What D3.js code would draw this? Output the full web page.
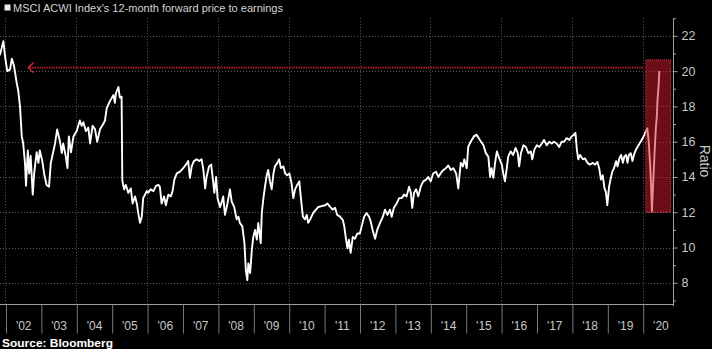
<!DOCTYPE html>
<html>
<head>
<meta charset="utf-8">
<script src="https://cdn.jsdelivr.net/npm/d3@7"></script>
<style>
  html, body { margin: 0; padding: 0; background: #000; }
  svg { display: block; }
</style>
</head>
<body>
<svg id="chart" width="712" height="349"></svg>
<script>
// ---- Text ----
const titleText = "MSCI ACWI Index's 12-month forward price to earnings";
const sourceText = "Source: Bloomberg";
const axisTitle = "Ratio";

// ---- Axis ticks ----
const yearTicks = d3.range(2002, 2021);
const yearLabels = ["'02","'03","'04","'05","'06","'07","'08","'09","'10","'11",
                    "'12","'13","'14","'15","'16","'17","'18","'19","'20"];
const gridYears = [2002, 2004, 2006, 2008, 2010, 2012, 2014, 2016, 2018, 2020];
const ratioTicks = [8, 10, 12, 14, 16, 18, 20, 22];
const ratioMinorTicks = [7, 9, 11, 13, 15, 17, 19, 21, 23];

// ---- Annotations (date as decimal year, value as ratio) ----
const referenceLevel = 20.2;                  // today's multiple, carried back to 2002
const referenceSpan = [2002.64, 2020.01];
const highlightDates = [2020.09, 2020.79];
const highlightRatios = [12.0, 20.64];

// ---- Forward P/E series [decimal year, ratio] ----
const pe2001_2004 = [
  [2001.84,20.9],[2001.94,21.7],[2001.99,20.8],[2002.05,20.0],[2002.13,20.1],[2002.18,20.7],
  [2002.24,20.3],[2002.32,19.3],[2002.36,18.9],[2002.41,18.0],[2002.46,16.3],[2002.50,15.9],
  [2002.55,14.8],[2002.58,13.5],[2002.63,15.5],[2002.67,14.2],[2002.71,15.2],[2002.77,13.0],
  [2002.81,14.2],[2002.88,15.4],[2002.93,14.8],[2002.97,15.5],[2003.04,14.9],[2003.09,14.2],
  [2003.16,13.55],[2003.23,13.45],[2003.28,14.8],[2003.33,15.25],[2003.40,15.9],[2003.46,16.7],
  [2003.54,16.0],[2003.59,15.35],[2003.63,15.9],[2003.70,15.2],[2003.75,14.5],[2003.79,16.3],
  [2003.85,15.4],[2003.92,16.3],[2004.01,16.6],[2004.10,17.2],[2004.15,16.9],[2004.20,17.1],
  [2004.27,16.6],[2004.34,16.8],[2004.39,15.9],[2004.46,16.9],[2004.53,16.7],[2004.59,16.0],
  [2004.67,16.7],[2004.76,17.0],[2004.81,17.2],[2004.86,17.9],[2004.95,18.3]
];
const pe2005_2008 = [
  [2005.05,18.65],[2005.09,18.2],[2005.12,18.75],[2005.19,19.1],[2005.23,18.5],[2005.28,18.55],
  [2005.30,13.8],[2005.35,13.3],[2005.40,13.55],[2005.47,13.1],[2005.54,13.35],[2005.59,12.5],
  [2005.66,12.9],[2005.71,12.5],[2005.75,11.95],[2005.80,11.4],[2005.85,11.75],[2005.89,12.8],
  [2005.94,13.0],[2005.99,13.2],[2006.03,13.1],[2006.10,13.3],[2006.18,13.2],[2006.25,13.5],
  [2006.32,13.55],[2006.36,13.45],[2006.41,12.5],[2006.48,12.9],[2006.53,12.4],[2006.60,13.0],
  [2006.67,12.9],[2006.72,13.2],[2006.77,13.85],[2006.84,14.2],[2006.93,14.3],[2007.02,14.5],
  [2007.10,14.7],[2007.16,14.9],[2007.21,13.95],[2007.26,14.6],[2007.32,14.9],[2007.40,15.0],
  [2007.47,14.9],[2007.54,15.0],[2007.59,14.4],[2007.64,13.35],[2007.68,14.0],[2007.75,14.6],
  [2007.81,14.7],[2007.85,14.0],[2007.90,13.1],[2007.95,14.0],[2007.99,12.8],[2008.06,12.3],
  [2008.11,12.6],[2008.15,12.9],[2008.20,11.85],[2008.27,12.5],[2008.34,13.3],[2008.39,12.6],
  [2008.46,12.3],[2008.53,11.6],[2008.58,11.75],[2008.62,11.4],[2008.69,11.2],[2008.75,10.25],
  [2008.79,8.7],[2008.83,8.15],[2008.86,9.1],[2008.91,8.55],[2008.96,9.9]
];
const pe2009_2012 = [
  [2009.00,10.6],[2009.05,11.0],[2009.10,10.45],[2009.14,11.4],[2009.21,10.25],[2009.24,11.95],
  [2009.28,12.7],[2009.33,13.45],[2009.38,14.1],[2009.42,14.4],[2009.47,13.75],[2009.52,13.3],
  [2009.57,14.2],[2009.61,14.6],[2009.68,14.8],[2009.73,15.0],[2009.78,14.5],[2009.85,14.6],
  [2009.90,14.2],[2009.96,14.1],[2010.02,14.2],[2010.08,13.65],[2010.13,12.8],[2010.18,13.3],
  [2010.24,13.55],[2010.30,13.75],[2010.34,12.9],[2010.40,11.75],[2010.46,11.6],[2010.51,11.85],
  [2010.55,11.4],[2010.62,11.65],[2010.69,11.95],[2010.77,12.15],[2010.84,12.3],[2010.93,12.35],
  [2011.03,12.4],[2011.09,12.5],[2011.17,12.3],[2011.24,12.15],[2011.31,12.25],[2011.37,11.85],
  [2011.45,11.75],[2011.53,11.55],[2011.57,11.2],[2011.62,10.45],[2011.66,9.95],[2011.70,10.45],
  [2011.75,9.7],[2011.81,10.6],[2011.87,10.5],[2011.94,10.8],[2012.01,10.8],[2012.06,11.2],
  [2012.13,11.75],[2012.20,11.95],[2012.27,11.75],[2012.32,11.45],[2012.37,11.0],[2012.44,10.5],
  [2012.50,11.0],[2012.58,11.4],[2012.66,11.75],[2012.72,12.15],[2012.79,11.85],[2012.86,12.15],
  [2012.91,11.75],[2012.97,12.25]
];
const pe2013_2016 = [
  [2013.05,12.5],[2013.12,12.8],[2013.19,12.8],[2013.26,13.0],[2013.33,12.9],[2013.40,13.45],
  [2013.45,13.1],[2013.49,12.25],[2013.54,13.1],[2013.60,13.3],[2013.66,12.9],[2013.73,13.45],
  [2013.80,13.75],[2013.88,13.85],[2013.94,14.0],[2014.01,13.75],[2014.08,14.2],[2014.16,14.3],
  [2014.23,14.0],[2014.29,14.2],[2014.37,14.4],[2014.44,14.5],[2014.51,14.65],[2014.58,14.4],
  [2014.65,14.5],[2014.73,14.2],[2014.79,13.35],[2014.86,14.8],[2014.92,14.6],[2014.96,15.0],
  [2015.03,14.5],[2015.07,15.7],[2015.14,16.0],[2015.23,16.3],[2015.31,16.4],[2015.40,16.1],
  [2015.50,15.8],[2015.57,15.35],[2015.64,15.15],[2015.69,14.0],[2015.73,14.5],[2015.78,13.95],
  [2015.83,14.8],[2015.88,15.45],[2015.95,15.05],[2016.02,14.7],[2016.06,14.2],[2016.11,13.75],
  [2016.16,14.5],[2016.20,15.15],[2016.27,15.45],[2016.34,15.25],[2016.41,15.65],[2016.47,15.35],
  [2016.51,14.6],[2016.56,15.35],[2016.63,15.8],[2016.70,15.7],[2016.77,15.35],[2016.84,15.45],
  [2016.88,15.0],[2016.94,15.55]
];
const pe2017_2020 = [
  [2017.01,15.8],[2017.08,15.7],[2017.15,15.9],[2017.21,16.1],[2017.29,15.8],[2017.36,16.0],
  [2017.43,15.9],[2017.49,16.0],[2017.57,15.9],[2017.64,15.7],[2017.71,16.0],[2017.78,16.0],
  [2017.85,16.2],[2017.93,16.1],[2017.99,16.3],[2018.06,16.4],[2018.10,16.5],[2018.14,15.55],
  [2018.18,15.0],[2018.23,15.25],[2018.31,15.0],[2018.37,15.05],[2018.44,14.8],[2018.51,14.7],
  [2018.59,14.8],[2018.65,14.7],[2018.72,14.85],[2018.77,14.5],[2018.82,13.85],[2018.87,14.1],
  [2018.92,13.35],[2018.96,13.15],[2019.00,12.4],[2019.05,13.45],[2019.10,13.95],[2019.14,14.3],
  [2019.19,14.5],[2019.25,14.9],[2019.29,14.6],[2019.34,15.05],[2019.39,15.25],[2019.44,14.8],
  [2019.48,15.15],[2019.53,15.25],[2019.57,14.8],[2019.61,15.25],[2019.66,15.35],[2019.71,14.9],
  [2019.75,15.25],[2019.81,15.55],[2019.88,15.8],[2019.94,16.0],[2020.00,16.2],[2020.05,16.4],
  [2020.09,16.6],[2020.13,16.75],[2020.17,16.0],[2020.21,14.7],[2020.24,13.35],[2020.26,12.05],
  [2020.28,13.0],[2020.31,14.3],[2020.34,15.6],[2020.37,16.75],[2020.40,17.5],[2020.42,18.45],
  [2020.45,19.2],[2020.47,20.0]
];
const series = [].concat(pe2001_2004, pe2005_2008, pe2009_2012, pe2013_2016, pe2017_2020);

// ---- Layout ----
const plot = { left: 0, right: 672.7, top: 18.2, bottom: 304 };
const labelFont = "'Liberation Sans', Arial, sans-serif";

const svg = d3.select("#chart");
svg.append("rect").attr("width", 712).attr("height", 349).attr("fill", "#000");

const x = d3.scaleLinear().domain([2001.845, 2020.847]).range([plot.left, plot.right]);
const y = d3.scaleLinear().domain([6.8, 23.0]).range([plot.bottom, plot.top]);
const crisp = v => Math.round(v) + 0.5;

// ---- Grid ----
const grid = svg.append("g")
  .attr("stroke", "#5a5a5a").attr("stroke-width", 1).attr("stroke-dasharray", "1,2");
grid.selectAll("line.h").data(ratioTicks).join("line").attr("class", "h")
  .attr("x1", plot.left).attr("x2", plot.right)
  .attr("y1", d => crisp(y(d))).attr("y2", d => crisp(y(d)));
grid.selectAll("line.v").data(gridYears).join("line").attr("class", "v")
  .attr("y1", plot.top).attr("y2", plot.bottom)
  .attr("x1", d => crisp(x(d))).attr("x2", d => crisp(x(d)));

// ---- Reference arrow ----
const refY = y(referenceLevel);
svg.append("line")
  .attr("x1", x(referenceSpan[1])).attr("x2", x(referenceSpan[0]) + 1)
  .attr("y1", refY).attr("y2", refY)
  .attr("stroke", "#c8202c").attr("stroke-width", 1.6).attr("stroke-dasharray", "1.4,1");
const ax = x(referenceSpan[0]);
svg.append("path")
  .attr("d", `M${ax + 5.5},${refY - 5} L${ax},${refY} L${ax + 5.5},${refY + 5}`)
  .attr("fill", "none").attr("stroke", "#c8202c").attr("stroke-width", 1.5);

// ---- Series ----
const line = d3.line().x(d => x(d[0])).y(d => y(d[1]));
svg.append("path").datum(series)
  .attr("d", line)
  .attr("fill", "none").attr("stroke", "#ffffff")
  .attr("stroke-width", 1.9).attr("stroke-linejoin", "round");

// ---- Highlight box ----
svg.append("rect")
  .attr("x", x(highlightDates[0])).attr("width", x(highlightDates[1]) - x(highlightDates[0]))
  .attr("y", y(highlightRatios[1])).attr("height", y(highlightRatios[0]) - y(highlightRatios[1]))
  .attr("fill", "rgb(215,28,48)").attr("fill-opacity", 0.5)
  .attr("stroke", "#e0404e").attr("stroke-width", 1).attr("stroke-dasharray", "1,1");

// ---- Axis frame ----
svg.append("line")
  .attr("x1", plot.left).attr("x2", crisp(plot.right))
  .attr("y1", crisp(plot.bottom)).attr("y2", crisp(plot.bottom))
  .attr("stroke", "#a0a0a0");
svg.append("line")
  .attr("x1", crisp(plot.right)).attr("x2", crisp(plot.right))
  .attr("y1", plot.top).attr("y2", plot.bottom + 2)
  .attr("stroke", "#a0a0a0");

// ---- Bottom axis: year boundaries and centred labels ----
const xTicks = svg.append("g").attr("transform", `translate(0.5,${crisp(plot.bottom)})`)
  .call(d3.axisBottom(x).tickValues(yearTicks).tickSize(29).tickFormat(""));
xTicks.select(".domain").remove();
xTicks.selectAll("line").attr("stroke", "#7a7a7a");

const xLabels = svg.append("g").attr("transform", `translate(0,${plot.bottom})`)
  .call(d3.axisBottom(x).tickValues(yearTicks.map(d => d + 0.5)).tickSize(0).tickPadding(17)
    .tickFormat((d, i) => yearLabels[i]));
xLabels.select(".domain").remove();
xLabels.selectAll("text")
  .attr("fill", "#c8c8c8").attr("font-family", labelFont).attr("font-size", 12);

// ---- Right axis ----
const yAxis = svg.append("g").attr("transform", `translate(${crisp(plot.right)},0)`)
  .call(d3.axisRight(y).tickValues(ratioTicks).tickSize(4).tickPadding(4));
yAxis.select(".domain").remove();
yAxis.selectAll("line").attr("stroke", "#a0a0a0");
yAxis.selectAll("text")
  .attr("fill", "#c8c8c8").attr("font-family", labelFont).attr("font-size", 12.5);

const yMinor = svg.append("g").attr("transform", `translate(${crisp(plot.right)},0)`)
  .call(d3.axisRight(y).tickValues(ratioMinorTicks).tickSize(2.5).tickFormat(""));
yMinor.select(".domain").remove();
yMinor.selectAll("line").attr("stroke", "#a0a0a0");

svg.append("text")
  .attr("transform", "translate(700,161) rotate(90)")
  .attr("text-anchor", "middle")
  .attr("fill", "#c8c8c8").attr("font-family", labelFont).attr("font-size", 14)
  .text(axisTitle);

// ---- Title with legend swatch ----
svg.append("rect").attr("x", 4.5).attr("y", 4.5).attr("width", 6).attr("height", 6)
  .attr("fill", "#f0f0f0");
svg.append("text")
  .attr("x", 13).attr("y", 11.8)
  .attr("fill", "#d4d4d4").attr("font-family", labelFont).attr("font-size", 11)
  .attr("textLength", 270).attr("lengthAdjust", "spacingAndGlyphs")
  .text(titleText);

// ---- Source ----
svg.append("text")
  .attr("x", 2).attr("y", 346.5)
  .attr("fill", "#ffffff").attr("font-family", labelFont).attr("font-size", 11)
  .attr("font-weight", "bold")
  .attr("textLength", 111).attr("lengthAdjust", "spacingAndGlyphs")
  .text(sourceText);
</script>
</body>
</html>
